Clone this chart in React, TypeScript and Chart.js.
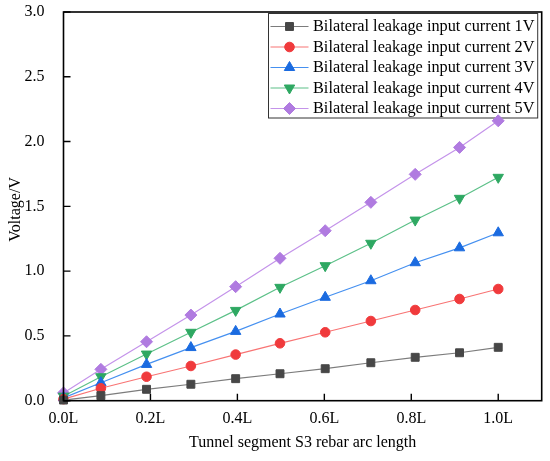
import React, { useEffect, useRef } from 'react';
import { Chart, registerables } from 'chart.js';
import { drawPoint } from 'chart.js/helpers';

Chart.register(...registerables);

// ---- data ----
const arcPositions = [0, 0.086, 0.191, 0.293, 0.396, 0.498, 0.602, 0.707, 0.809, 0.911, 1.0];
const xTickValues = [0, 0.2, 0.4, 0.6, 0.8, 1.0];
const yTickValues = [0, 0.5, 1.0, 1.5, 2.0, 2.5, 3.0];

const seriesLabels = [
  'Bilateral leakage input current 1V',
  'Bilateral leakage input current 2V',
  'Bilateral leakage input current 3V',
  'Bilateral leakage input current 4V',
  'Bilateral leakage input current 5V',
];

const current1V = [0.005, 0.039, 0.088, 0.127, 0.17, 0.208, 0.247, 0.293, 0.335, 0.37, 0.412];
const current2V = [0.012, 0.096, 0.185, 0.268, 0.356, 0.443, 0.528, 0.615, 0.7, 0.785, 0.862];
const current3V = [0.022, 0.139, 0.28, 0.41, 0.535, 0.669, 0.798, 0.926, 1.065, 1.18, 1.296];
const current4V = [0.035, 0.185, 0.36, 0.528, 0.697, 0.875, 1.042, 1.215, 1.394, 1.562, 1.724];
const current5V = [0.06, 0.242, 0.455, 0.661, 0.88, 1.099, 1.312, 1.531, 1.747, 1.955, 2.16];

const seriesValues = [current1V, current2V, current3V, current4V, current5V];

// ---- styles ----
const markerColors = ['#474747', '#f03a3c', '#1b6be0', '#2ea862', '#b07be0'];
const lineColors = ['#7c7c7c', '#f87474', '#4590f0', '#5cc088', '#c493ea'];
const pointStyles = ['rect', 'circle', 'triangle', 'triangle', 'rectRot'];
const pointRotations = [0, 0, 0, 180, 0];
const pointRadii = [5.6, 4.8, 6, 6, 6];

const FONT = '"Liberation Serif", "Times New Roman", serif';

const overlayPlugin = {
  id: 'overlay',
  beforeDatasetsDraw(chart: any) {
    const { ctx } = chart;
    ctx.save();
    // legend (drawn beneath the data marks)
    const boxL = 268.5;
    const boxR = 537.7;
    const boxT = 13.5;
    const boxB = 118;
    const firstRow = 26.5;
    const rowH = 20.5;
    ctx.fillStyle = '#fff';
    ctx.fillRect(boxL, boxT, boxR - boxL, boxB - boxT);
    ctx.strokeStyle = '#333';
    ctx.lineWidth = 1;
    ctx.strokeRect(boxL, boxT, boxR - boxL, boxB - boxT);
    seriesLabels.forEach((label, i) => {
      const cy = firstRow + i * rowH;
      ctx.strokeStyle = lineColors[i];
      ctx.lineWidth = 1.2;
      ctx.beginPath();
      ctx.moveTo(270.5, cy);
      ctx.lineTo(308.5, cy);
      ctx.stroke();
      ctx.fillStyle = markerColors[i];
      ctx.strokeStyle = markerColors[i];
      ctx.lineWidth = 1;
      drawPoint(ctx, {
        pointStyle: pointStyles[i],
        radius: pointRadii[i],
        rotation: pointRotations[i],
        borderWidth: 1,
      } as any, 289.5, cy);
      ctx.fillStyle = '#000';
      ctx.font = `16.3px ${FONT}`;
      ctx.textAlign = 'left';
      ctx.textBaseline = 'middle';
      ctx.fillText(label, 313, cy + 0.5);
    });
    ctx.restore();
  },
  afterDatasetsDraw(chart: any) {
    const { ctx, chartArea } = chart;
    const xs = chart.scales.x;
    const ys = chart.scales.y;
    const { left, right, top, bottom } = chartArea;
    ctx.save();
    // frame
    ctx.strokeStyle = '#000';
    ctx.lineWidth = 1.6;
    ctx.strokeRect(left, top, right - left, bottom - top);
    // inward ticks
    ctx.lineWidth = 1.4;
    ctx.beginPath();
    xTickValues.forEach((v) => {
      const px = xs.getPixelForValue(v);
      ctx.moveTo(px, bottom);
      ctx.lineTo(px, bottom - 7);
    });
    yTickValues.forEach((v) => {
      const py = ys.getPixelForValue(v);
      ctx.moveTo(left, py);
      ctx.lineTo(left + 7, py);
    });
    ctx.stroke();

    // axis titles
    ctx.fillStyle = '#000';
    ctx.font = `16px ${FONT}`;
    ctx.textAlign = 'center';
    ctx.textBaseline = 'middle';
    ctx.fillText('Tunnel segment S3 rebar arc length', (left + right) / 2, 443);
    ctx.save();
    ctx.translate(16, (top + bottom) / 2 + 3);
    ctx.rotate(-Math.PI / 2);
    ctx.fillText('Voltage/V', 0, 0);
    ctx.restore();
    ctx.restore();
  },
};

export default function App() {
  const canvasRef = useRef<HTMLCanvasElement | null>(null);

  useEffect(() => {
    document.body.style.margin = '0';
    const canvas = canvasRef.current;
    if (!canvas) return;
    const datasets = seriesLabels.map((label, i) => ({
      label,
      data: arcPositions.map((x, j) => ({ x, y: seriesValues[i][j] })),
      borderColor: lineColors[i],
      borderWidth: 1.2,
      backgroundColor: markerColors[i],
      pointBackgroundColor: markerColors[i],
      pointBorderColor: markerColors[i],
      pointBorderWidth: 1,
      pointStyle: pointStyles[i],
      pointRotation: pointRotations[i],
      pointRadius: pointRadii[i],
      pointHoverRadius: pointRadii[i],
      tension: 0,
      fill: false,
      clip: false as any,
    }));

    const chart = new Chart(canvas, {
      type: 'line',
      data: { datasets },
      options: {
        animation: false,
        responsive: true,
        maintainAspectRatio: false,
        layout: { padding: { top: 12, right: 8.3, left: 0, bottom: 0 } },
        plugins: {
          legend: { display: false },
          tooltip: { enabled: false },
          title: { display: false },
        },
        scales: {
          x: {
            type: 'linear',
            min: 0,
            max: 1.1,
            grid: { display: false },
            border: { display: false },
            afterBuildTicks: (scale: any) => {
              scale.ticks = xTickValues.map((v) => ({ value: v }));
            },
            afterFit: (scale: any) => {
              scale.height = 60.3;
              scale.paddingLeft = 0;
              scale.paddingRight = 0;
            },
            ticks: {
              padding: 0,
              color: '#000',
              font: { family: FONT, size: 16 },
              maxRotation: 0,
              callback: (v: any) => Number(v).toFixed(1) + 'L',
            },
          },
          y: {
            type: 'linear',
            min: 0,
            max: 3,
            grid: { display: false },
            border: { display: false },
            afterBuildTicks: (scale: any) => {
              scale.ticks = yTickValues.map((v) => ({ value: v }));
            },
            afterFit: (scale: any) => {
              scale.width = 63.5;
              scale.paddingTop = 0;
              scale.paddingBottom = 0;
            },
            ticks: {
              padding: 11,
              color: '#000',
              font: { family: FONT, size: 16 },
              callback: (v: any) => Number(v).toFixed(1),
            },
          },
        },
      },
      plugins: [overlayPlugin],
    });
    return () => chart.destroy();
  }, []);

  return (
    <div style={{ width: 550, height: 461, position: 'relative' }}>
      <canvas ref={canvasRef} />
    </div>
  );
}
